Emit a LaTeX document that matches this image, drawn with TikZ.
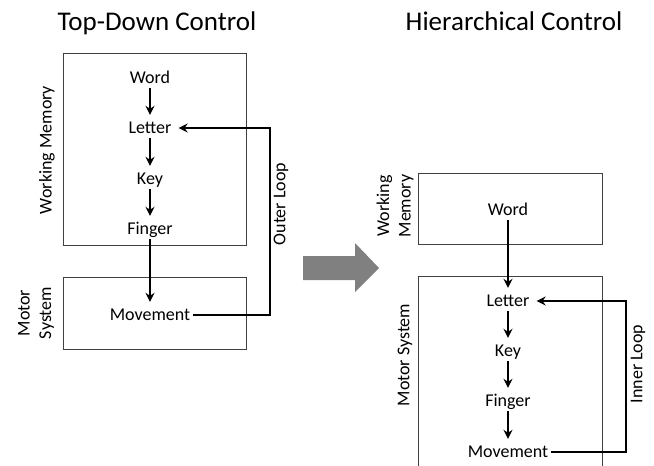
\documentclass[tikz,border=0pt]{standalone}
\usepackage{fontspec}
\setmainfont{Carlito}
\usetikzlibrary{arrows.meta}

\begin{document}
\begin{tikzpicture}[x=1pt, y=-1pt,
    lbl/.style={font=\fontsize{18}{21.6}\selectfont, anchor=base, inner xsep=3pt, inner ysep=2pt, text height=13pt, text depth=3pt},
    side/.style={font=\fontsize{18}{21.6}\selectfont, rotate=90, align=center},
    head/.style={font=\fontsize{27}{32}\selectfont, anchor=base},
    box/.style={draw=black!75, line width=1pt},
    arr/.style={-{Stealth[length=9pt, width=9pt, inset=3pt]}, line width=1.7pt, shorten >=3pt},
    loopline/.style={-{Stealth[length=9pt, width=9pt, inset=3pt]}, line width=1.7pt, shorten >=4pt}]
\useasboundingbox (0,0) rectangle (654,466);

% Titles
\node[head] (tdTitle) at (157,30) {Top-Down Control};
\node[head] (hcTitle) at (514,30) {Hierarchical Control};

% Boxes on the left
\draw[box] (63,53) rectangle (246,245);
\draw[box] (63,277) rectangle (246,349);

% Boxes on the right (the lower one runs off the page)
\draw[box] (418,173) rectangle (602,244);
\draw[box] (418,468) -- (418,276) -- (602,276) -- (602,468);

% Big gray arrow in the middle
\fill[black!50] (303,256) -- (355,256) -- (355,243) -- (379,268) -- (355,292) -- (355,280) -- (303,280) -- cycle;

% Left chain of levels
\foreach \n/\t/\y in {Word/Word/83, Letter/Letter/133, Key/Key/184, Finger/Finger/234, Move/Movement/320} {
    \node[lbl] (L\n) at (150,\y) {\t};
}

% Right chain of levels
\foreach \n/\t/\y in {Word/Word/215, Letter/Letter/306, Key/Key/356, Finger/Finger/406, Move/Movement/457} {
    \node[lbl] (R\n) at (508,\y) {\t};
}

% Arrows down the chains
\draw[arr] (LWord) -- (LLetter);
\draw[arr] (LLetter) -- (LKey);
\draw[arr] (LKey) -- (LFinger);
\draw[arr] (LFinger) -- (LMove);

\draw[arr] (RWord) -- (RLetter);
\draw[arr] (RLetter) -- (RKey);
\draw[arr] (RKey) -- (RFinger);
\draw[arr] (RFinger) -- (RMove);

% Feedback loops
\coordinate (outerX) at (270,0);
\coordinate (innerX) at (626,0);
\draw[loopline] (LMove.east) -| (outerX |- LLetter.east) -- (LLetter.east);
\draw[loopline] (RMove.east) -| (innerX |- RLetter.east) -- (RLetter.east);

% Side labels
\node[side] (wmL) at (47,150) {Working Memory};
\node[side] (msL) at (36,313) {Motor\\System};
\node[side] (olL) at (281,204) {Outer Loop};

\node[side] (wmR) at (395,206) {Working\\Memory};
\node[side] (msR) at (405,355) {Motor System};
\node[side] (ilR) at (638,364) {Inner Loop};

\end{tikzpicture}
\end{document}
